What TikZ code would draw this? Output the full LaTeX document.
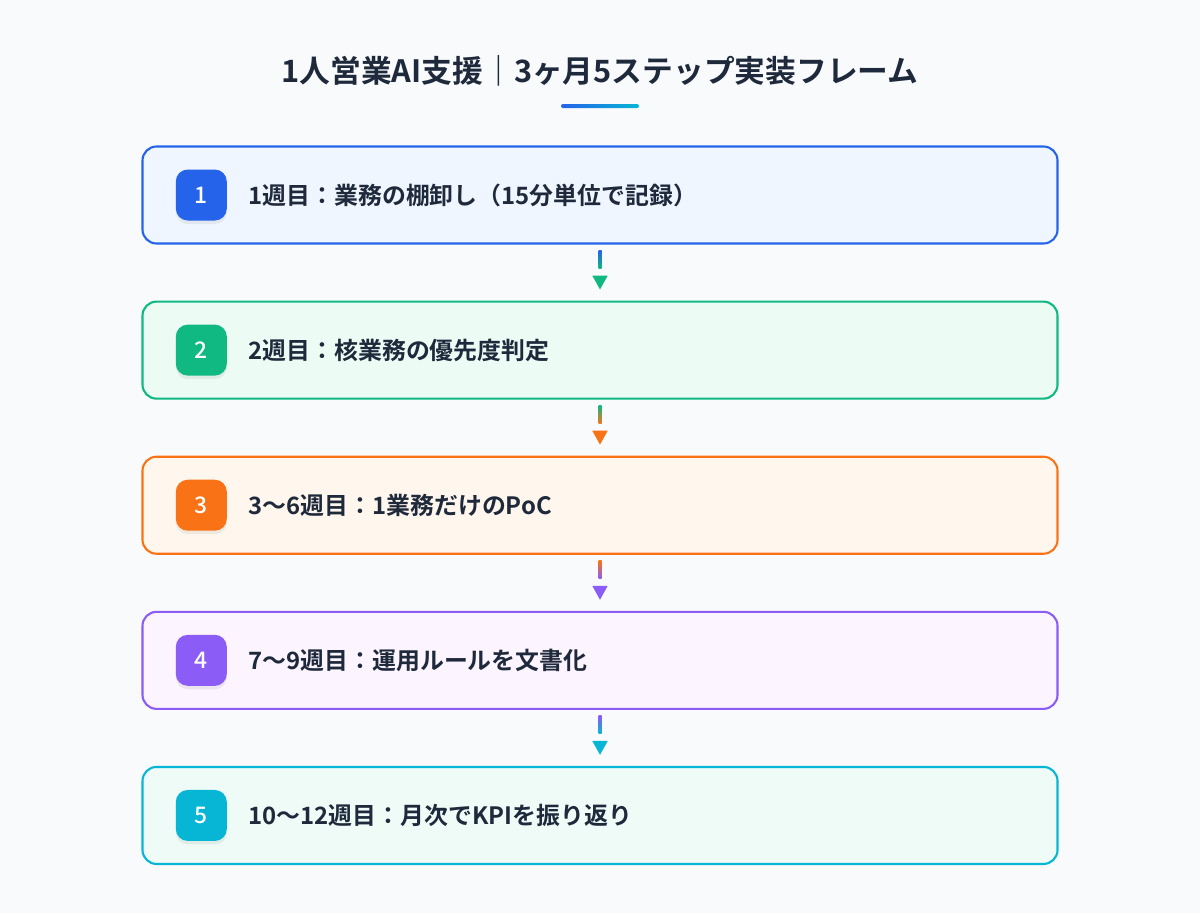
\documentclass[tikz,border=0pt]{standalone}
\usepackage{fontspec}
\setmainfont{Noto Sans CJK JP}[BoldFont={Noto Sans CJK JP Bold}]
\newfontfamily\badgefont{Noto Sans CJK JP Medium}
\usetikzlibrary{arrows.meta, positioning, shadows}

\definecolor{pagebg}{HTML}{F8FAFC}
\definecolor{ink}{HTML}{1E293B}
\definecolor{cblue}{HTML}{2563EB}
\definecolor{cgreen}{HTML}{10B981}
\definecolor{corange}{HTML}{F97316}
\definecolor{cpurple}{HTML}{8B5CF6}
\definecolor{ccyan}{HTML}{06B6D4}
\definecolor{bgblue}{HTML}{EFF6FF}
\definecolor{bggreen}{HTML}{EDFBF5}
\definecolor{bgorange}{HTML}{FFF7ED}
\definecolor{bgpurple}{HTML}{FCF4FF}
\definecolor{bgcyan}{HTML}{EEFBF7}

\begin{document}
\begin{tikzpicture}[
    scale=1,
    stepbox/.style={draw, line width=1.2pt, rounded corners=0.28cm, minimum width=18.3cm, minimum height=1.94cm, inner sep=0pt},
    badge/.style={rounded corners=0.24cm, minimum size=1.02cm, inner sep=0pt, text=white,
        font=\badgefont\fontsize{13}{15}\selectfont,
        drop shadow={opacity=0.12, shadow xshift=0pt, shadow yshift=-2pt}},
    steptext/.style={font=\bfseries\fontsize{13.6}{16}\selectfont, text=ink, inner sep=0pt},
    tip/.style={-{Triangle[length=0.28cm, width=0.3cm]}, line width=1pt, shorten <=0.62cm, shorten >=0.22cm}
]

  % Page and title
  \fill[pagebg] (0,0) rectangle (24,-18.26);
  \useasboundingbox (0,0) rectangle (24,-18.26);
  \node[font=\bfseries\fontsize{17.5}{20}\selectfont, text=ink] (title) at (12,-1.42) {1人営業AI支援｜3ヶ月5ステップ実装フレーム};
  \shade[left color=cblue, right color=ccyan, rounded corners=0.04cm] (11.22,-2.08) rectangle (12.78,-2.16);

  % Step boxes
  \node[stepbox, draw=cblue, fill=bgblue] (b1) at (12,-3.9) {};
  \node[stepbox, draw=cgreen, fill=bggreen, below=1.12cm of b1] (b2) {};
  \node[stepbox, draw=corange, fill=bgorange, below=1.12cm of b2] (b3) {};
  \node[stepbox, draw=cpurple, fill=bgpurple, below=1.12cm of b3] (b4) {};
  \node[stepbox, draw=ccyan, fill=bgcyan, below=1.12cm of b4] (b5) {};

  % Number badges
  \node[badge, fill=cblue, right=0.68cm of b1.west] (n1) {1};
  \node[badge, fill=cgreen, right=0.68cm of b2.west] (n2) {2};
  \node[badge, fill=corange, right=0.68cm of b3.west] (n3) {3};
  \node[badge, fill=cpurple, right=0.68cm of b4.west] (n4) {4};
  \node[badge, fill=ccyan, right=0.68cm of b5.west] (n5) {5};

  % Step labels
  \node[steptext, right=0.42cm of n1] (t1) {1週目：業務の棚卸し（15分単位で記録）};
  \node[steptext, right=0.42cm of n2] (t2) {2週目：核業務の優先度判定};
  \node[steptext, right=0.42cm of n3] (t3) {3〜6週目：1業務だけのPoC};
  \node[steptext, right=0.42cm of n4] (t4) {7〜9週目：運用ルールを文書化};
  \node[steptext, right=0.42cm of n5] (t5) {10〜12週目：月次でKPIを振り返り};

  % Connectors (gradient stem, then tip)
  \shade[top color=cblue, bottom color=cgreen] ([xshift=-0.03cm, yshift=-0.12cm]b1.south) rectangle ([xshift=0.03cm, yshift=-0.48cm]b1.south);
  \draw[tip, cgreen] (b1.south) -- (b2.north);
  \shade[top color=cgreen, bottom color=corange] ([xshift=-0.03cm, yshift=-0.12cm]b2.south) rectangle ([xshift=0.03cm, yshift=-0.48cm]b2.south);
  \draw[tip, corange] (b2.south) -- (b3.north);
  \shade[top color=corange, bottom color=cpurple] ([xshift=-0.03cm, yshift=-0.12cm]b3.south) rectangle ([xshift=0.03cm, yshift=-0.48cm]b3.south);
  \draw[tip, cpurple] (b3.south) -- (b4.north);
  \shade[top color=cpurple, bottom color=ccyan] ([xshift=-0.03cm, yshift=-0.12cm]b4.south) rectangle ([xshift=0.03cm, yshift=-0.48cm]b4.south);
  \draw[tip, ccyan] (b4.south) -- (b5.north);

\end{tikzpicture}
\end{document}
